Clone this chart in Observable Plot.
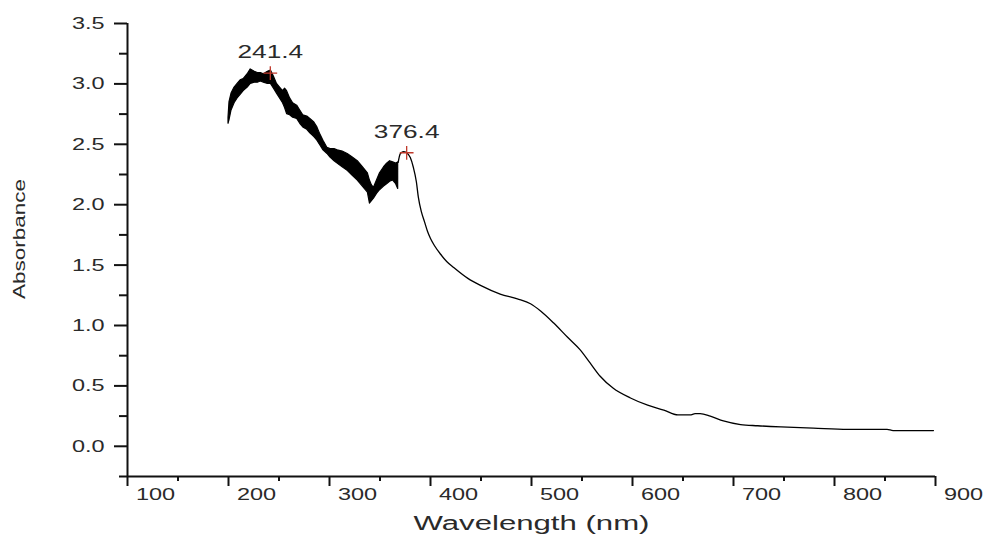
<!DOCTYPE html>
<html>
<head>
<meta charset="utf-8">
<script src="https://cdn.jsdelivr.net/npm/d3@7"></script>
<script src="https://cdn.jsdelivr.net/npm/@observablehq/plot@0.6"></script>
<style>
  html, body { margin: 0; padding: 0; background: #fff; }
  #chart svg { display: block; }
</style>
</head>
<body>
<div id="chart"></div>
<script>
// ---- Data ----
// Noisy UV region: lower / upper envelope of the oscillating trace
const bandNm = [200, 201, 203, 206, 209, 212, 215, 219, 222, 226, 229, 232, 235, 239, 242, 245, 248, 251, 254, 256, 258, 261, 264, 268, 271, 274, 278, 281, 285, 288, 291, 294, 298, 301, 305, 308, 313, 318, 323, 328, 333, 338, 340, 342, 344, 347, 350, 354, 357, 360, 363, 366, 368];
const bandLo = [2.67, 2.70, 2.78, 2.84, 2.88, 2.91, 2.94, 2.97, 3.00, 3.01, 3.01, 3.02, 3.01, 3.00, 3.00, 2.96, 2.92, 2.88, 2.84, 2.80, 2.75, 2.74, 2.72, 2.71, 2.67, 2.64, 2.62, 2.59, 2.56, 2.53, 2.49, 2.45, 2.42, 2.39, 2.36, 2.34, 2.31, 2.28, 2.24, 2.20, 2.15, 2.10, 2.01, 2.03, 2.05, 2.09, 2.12, 2.15, 2.17, 2.19, 2.20, 2.17, 2.13];
const bandHi = [2.72, 2.85, 2.92, 2.97, 3.00, 3.03, 3.04, 3.08, 3.12, 3.10, 3.09, 3.09, 3.08, 3.10, 3.11, 3.06, 3.00, 2.97, 2.94, 2.96, 2.94, 2.88, 2.84, 2.82, 2.78, 2.74, 2.73, 2.71, 2.68, 2.64, 2.58, 2.53, 2.47, 2.46, 2.46, 2.45, 2.44, 2.42, 2.39, 2.36, 2.31, 2.26, 2.20, 2.16, 2.14, 2.20, 2.26, 2.31, 2.34, 2.36, 2.35, 2.34, 2.35];

// Smooth visible region
const lineNm  = [368, 370, 373, 376.4, 380, 383, 386, 388, 391, 394, 397, 400, 404, 410, 416, 423, 437, 450, 469, 486, 499, 509, 522, 536, 548, 558, 568, 581, 598, 615, 631, 645, 657, 662, 667, 677, 690, 707, 724, 747, 779, 813, 852, 858, 898];
const lineAbs = [2.35, 2.42, 2.44, 2.43, 2.39, 2.31, 2.19, 2.06, 1.94, 1.86, 1.78, 1.72, 1.66, 1.59, 1.53, 1.48, 1.39, 1.33, 1.26, 1.22, 1.18, 1.12, 1.02, 0.90, 0.80, 0.69, 0.58, 0.48, 0.40, 0.34, 0.30, 0.26, 0.26, 0.27, 0.27, 0.25, 0.21, 0.18, 0.17, 0.16, 0.15, 0.14, 0.14, 0.13, 0.13];

// Peak annotations
const peakNm    = [241.4, 376.4];
const peakAbs   = [3.09, 2.43];
const peakLabel = ["241.4", "376.4"];

// Axis ticks
const xMajor = [100, 200, 300, 400, 500, 600, 700, 800, 900];
const xMinor = [150, 250, 350, 450, 550, 650, 750, 850];
const yMajor = [0, 0.5, 1.0, 1.5, 2.0, 2.5, 3.0, 3.5];
const yMinor = [-0.25, 0.25, 0.75, 1.25, 1.75, 2.25, 2.75, 3.25];

const xTitle = "Wavelength (nm)";
const yTitle = "Absorbance";

const FONT = "'Liberation Sans', Arial, sans-serif";
const INK = "#111";
const TEXT = "#2a2a2a";

const chart = Plot.plot({
  width: 985,
  height: 542,
  marginLeft: 127,
  marginRight: 50,
  marginTop: 23,
  marginBottom: 66,
  style: { fontFamily: FONT, fontSize: "17px", background: "#fff", color: TEXT },
  x: { domain: [100, 900] },
  y: { domain: [-0.25, 3.5] },
  marks: [
    // X axis: major ticks, minor ticks, shifted labels
    Plot.axisX({ ticks: xMajor, tickSize: 10, fill: "none", stroke: INK, strokeWidth: 2, label: null }),
    Plot.axisX({ ticks: xMinor, tickSize: 5, fill: "none", stroke: INK, strokeWidth: 2, label: null }),
    Plot.axisX({ ticks: xMajor, tickSize: 0, tickPadding: 11, dx: 28, fontSize: 17, fill: TEXT, label: null, tickFormat: d => String(d) }),
    // Y axis
    Plot.axisY({ ticks: yMajor, tickSize: 13, fill: "none", stroke: INK, strokeWidth: 2, label: null }),
    Plot.axisY({ ticks: yMinor, tickSize: 8, fill: "none", stroke: INK, strokeWidth: 2, label: null }),
    Plot.axisY({ ticks: yMajor, tickSize: 0, tickPadding: 23, fontSize: 17, fill: TEXT, label: null, tickFormat: d3.format(".1f") }),
    // Axis lines
    Plot.ruleX([100], { y1: -0.25, y2: 3.5, stroke: INK, strokeWidth: 2 }),
    Plot.ruleY([-0.25], { x1: 100, x2: 900, stroke: INK, strokeWidth: 2 }),
    // Noisy band
    Plot.areaY(bandNm, { x: bandNm, y1: bandLo, y2: bandHi, fill: "#000", stroke: "#000", strokeWidth: 1.2 }),
    // Smooth trace
    Plot.line(lineNm, { x: lineNm, y: lineAbs, stroke: "#000", strokeWidth: 1.3, curve: "monotone-x" }),
    // Peak markers and labels
    Plot.dot(peakNm, { x: peakNm, y: peakAbs, symbol: "plus", r: 4.5, stroke: "#c0392b", strokeWidth: 1.3 }),
    Plot.text(peakLabel, { x: peakNm, y: peakAbs, text: peakLabel, dy: -21, fontSize: 19, fill: TEXT }),
    // Axis titles
    Plot.text([xTitle], { frameAnchor: "bottom", text: d => d, dy: 53, fontSize: 20, fill: TEXT }),
    Plot.text([yTitle], { frameAnchor: "left", textAnchor: "middle", text: d => d, rotate: -90, dx: -108, dy: -11, fontSize: 16, fill: TEXT })
  ]
});

document.getElementById("chart").appendChild(chart);

// The reference's lettering is stretched horizontally; reproduce with textLength.
const svg = d3.select(chart.tagName.toLowerCase() === "svg" ? chart : chart.querySelector("svg"));
svg.selectAll("text").each(function () {
  const t = d3.select(this);
  const txt = this.textContent;
  if (!txt) return;
  let target;
  if (txt === yTitle) target = 120;
  else if (txt === xTitle) target = 236;
  else target = this.getComputedTextLength() * 1.38;
  t.attr("textLength", target.toFixed(1)).attr("lengthAdjust", "spacingAndGlyphs");
});
</script>
</body>
</html>
